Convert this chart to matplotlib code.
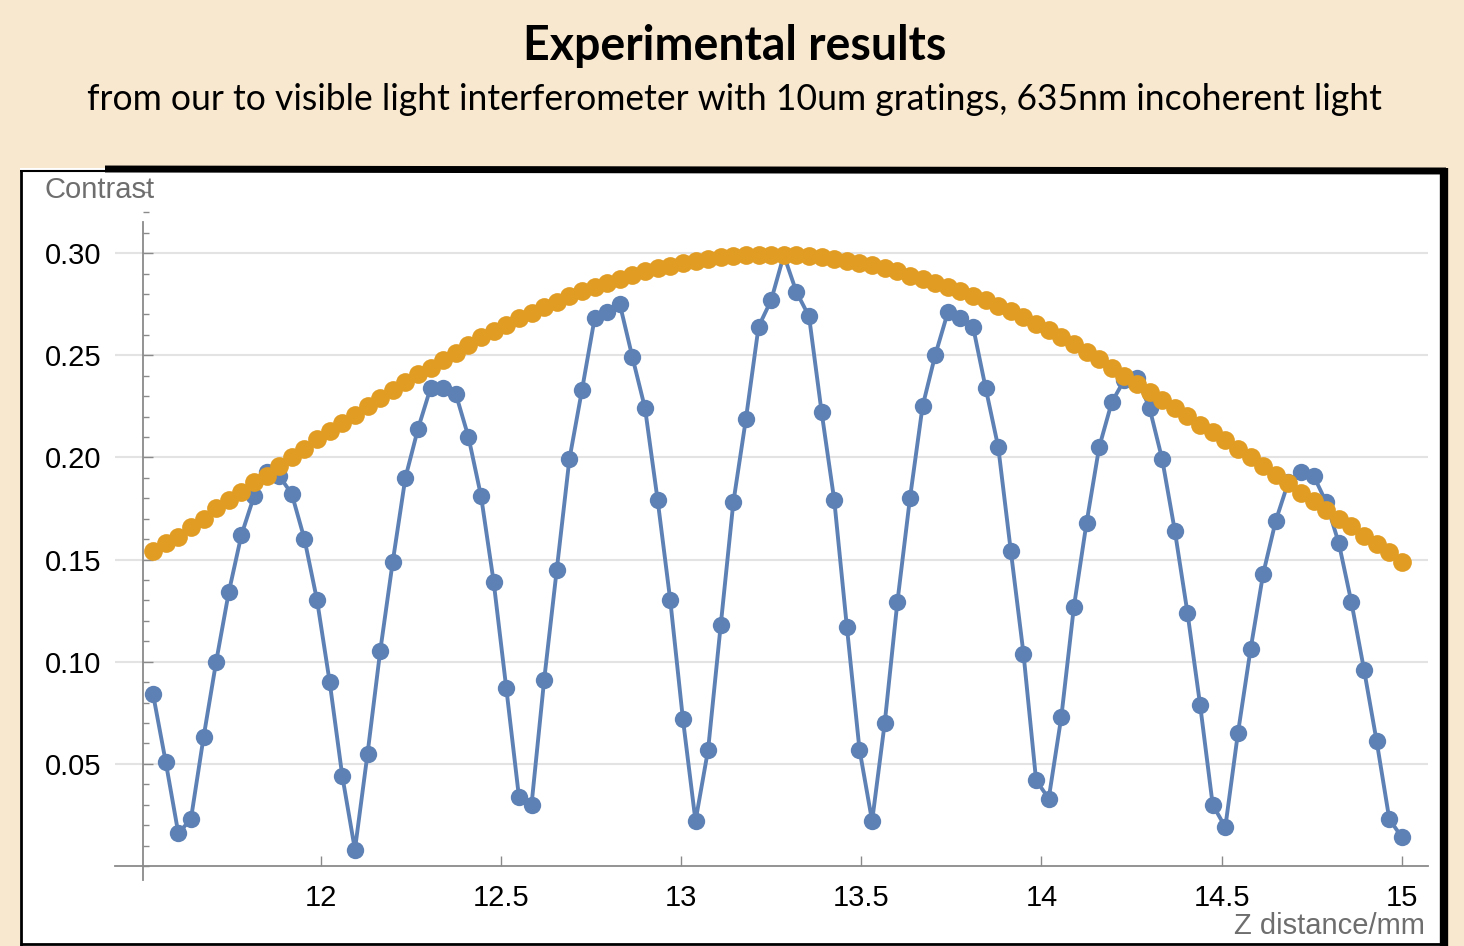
import numpy as np
import matplotlib
matplotlib.use("Agg")
import matplotlib.pyplot as plt
from matplotlib.lines import Line2D
from matplotlib.patches import Rectangle
from matplotlib.ticker import MultipleLocator

# measurement grid (z positions of the scan, mm)
z_mm = np.linspace(11.535, 15.0, 100)

# measured fringe contrast
contrast = [
    0.084, 0.051, 0.016, 0.023, 0.063, 0.100, 0.134, 0.162, 0.181, 0.193,
    0.191, 0.182, 0.160, 0.130, 0.090, 0.044, 0.008, 0.055, 0.105, 0.149,
    0.190, 0.214, 0.234, 0.234, 0.231, 0.210, 0.181, 0.139, 0.087, 0.034,
    0.030, 0.091, 0.145, 0.199, 0.233, 0.268, 0.271, 0.275, 0.249, 0.224,
    0.179, 0.130, 0.072, 0.022, 0.057, 0.118, 0.178, 0.219, 0.264, 0.277,
    0.299, 0.281, 0.269, 0.222, 0.179, 0.117, 0.057, 0.022, 0.070, 0.129,
    0.180, 0.225, 0.250, 0.271, 0.268, 0.264, 0.234, 0.205, 0.154, 0.104,
    0.042, 0.033, 0.073, 0.127, 0.168, 0.205, 0.227, 0.238, 0.239, 0.224,
    0.199, 0.164, 0.124, 0.079, 0.030, 0.019, 0.065, 0.106, 0.143, 0.169,
    0.188, 0.193, 0.191, 0.178, 0.158, 0.129, 0.096, 0.061, 0.023, 0.014,
]

# envelope of the contrast
envelope = [
    0.154, 0.158, 0.161, 0.166, 0.170, 0.175, 0.179, 0.183, 0.188, 0.191,
    0.196, 0.200, 0.204, 0.209, 0.213, 0.217, 0.221, 0.225, 0.229, 0.233,
    0.237, 0.241, 0.244, 0.2475, 0.251, 0.255, 0.2587, 0.2617, 0.2648, 0.268,
    0.2705, 0.2735, 0.276, 0.279, 0.2813, 0.2835, 0.2855, 0.2875, 0.2892, 0.291,
    0.2925, 0.2938, 0.295, 0.2962, 0.2972, 0.298, 0.2985, 0.299, 0.2992, 0.2993,
    0.2992, 0.299, 0.2986, 0.298, 0.2972, 0.2963, 0.2953, 0.294, 0.2925, 0.291,
    0.289, 0.2872, 0.2853, 0.2833, 0.2813, 0.2792, 0.277, 0.2743, 0.2715, 0.2685,
    0.2655, 0.2622, 0.259, 0.2555, 0.2517, 0.248, 0.244, 0.240, 0.236, 0.232,
    0.228, 0.2243, 0.2203, 0.216, 0.2122, 0.2083, 0.204, 0.200, 0.196, 0.1915,
    0.1873, 0.1828, 0.1786, 0.1745, 0.170, 0.1662, 0.1615, 0.1578, 0.1535, 0.149,
]

x_ticks = [12, 12.5, 13, 13.5, 14, 14.5, 15]
x_tick_labels = ["12", "12.5", "13", "13.5", "14", "14.5", "15"]
y_ticks = [0.05, 0.10, 0.15, 0.20, 0.25, 0.30]

W, H = 1464, 946
bg = "#F9E8D0"
blue = "#5E81B5"
orange = "#E19C24"

fig = plt.figure(figsize=(W / 100, H / 100), dpi=100, facecolor=bg)

# white panel with rough dark frame
fig.add_artist(Rectangle((20 / W, 0), 1425 / W, 778 / H, transform=fig.transFigure,
                         facecolor="white", edgecolor="none", zorder=0))
frame = [
    ((105, 1446), (169, 171), 5.0),
    ((20, 105), (171, 171), 1.5),
    ((1444, 1444), (168, 946), 6.0),
    ((21, 21), (171, 946), 2.0),
    ((20, 1445), (944, 944), 2.0),
]
for xs, ys, lw in frame:
    fig.add_artist(Line2D([xs[0] / W, xs[1] / W], [1 - ys[0] / H, 1 - ys[1] / H],
                          transform=fig.transFigure, color="black", lw=lw,
                          solid_capstyle="butt", zorder=1))

ax = fig.add_axes([115 / W, 80 / H, 1313 / W, 694 / H])
ax.set_facecolor("none")

ax.plot(z_mm, contrast, color=blue, lw=2.8, marker="o", ms=12.5,
        markeredgewidth=0, zorder=3, clip_on=False)
ax.plot(z_mm, envelope, color=orange, lw=0, marker="o", ms=13.5,
        markeredgewidth=0, zorder=4, clip_on=False)

ax.set_xlim(11.4293, 15.0724)
ax.set_ylim(0, 0.3397)

for s in ["top", "right"]:
    ax.spines[s].set_visible(False)
ax.spines["left"].set_position(("data", 11.507))
ax.spines["left"].set_bounds(-0.0068, 0.315)
ax.spines["bottom"].set_position(("data", 0))
for s in ["left", "bottom"]:
    ax.spines[s].set_color("#8a8a8a")
    ax.spines[s].set_linewidth(1.3)

ax.set_xticks(x_ticks)
ax.set_xticklabels(x_tick_labels)
ax.set_yticks(y_ticks)
ax.set_yticklabels([f"{v:.2f}" for v in y_ticks])
ax.yaxis.set_minor_locator(MultipleLocator(0.01))

ax.tick_params(axis="x", direction="in", length=7, width=1.0, color="#8a8a8a",
               labelsize=21, pad=13)
ax.tick_params(axis="y", which="major", direction="in", length=7, width=1.0,
               color="#8a8a8a", labelsize=21, pad=30)
ax.tick_params(axis="y", which="minor", direction="in", length=4, width=1.0,
               color="#8a8a8a")
for lab in ax.get_xticklabels() + ax.get_yticklabels():
    lab.set_fontfamily("Liberation Sans")

ax.grid(axis="y", which="major", color="#e3e3e3", lw=1.5, zorder=0)
ax.set_axisbelow(True)

fig.text(45 / W, 1 - 190 / H, "Contrast", ha="left", va="center", fontsize=21,
         color="#6e6e6e", family="Liberation Sans")
fig.text(1425 / W, 1 - 926 / H, "Z distance/mm", ha="right", va="center",
         fontsize=21, color="#6e6e6e", family="Liberation Sans")

fig.text(0.502, 1 - 46 / H, "Experimental results", ha="center", va="center",
         fontsize=33.5, fontweight="bold", family="Lato")
fig.text(0.502, 1 - 100 / H,
         "from our to visible light interferometer with 10um gratings, 635nm incoherent light",
         ha="center", va="center", fontsize=25.6, family="Lato")

fig.savefig("out.png", dpi=100, facecolor=bg)
